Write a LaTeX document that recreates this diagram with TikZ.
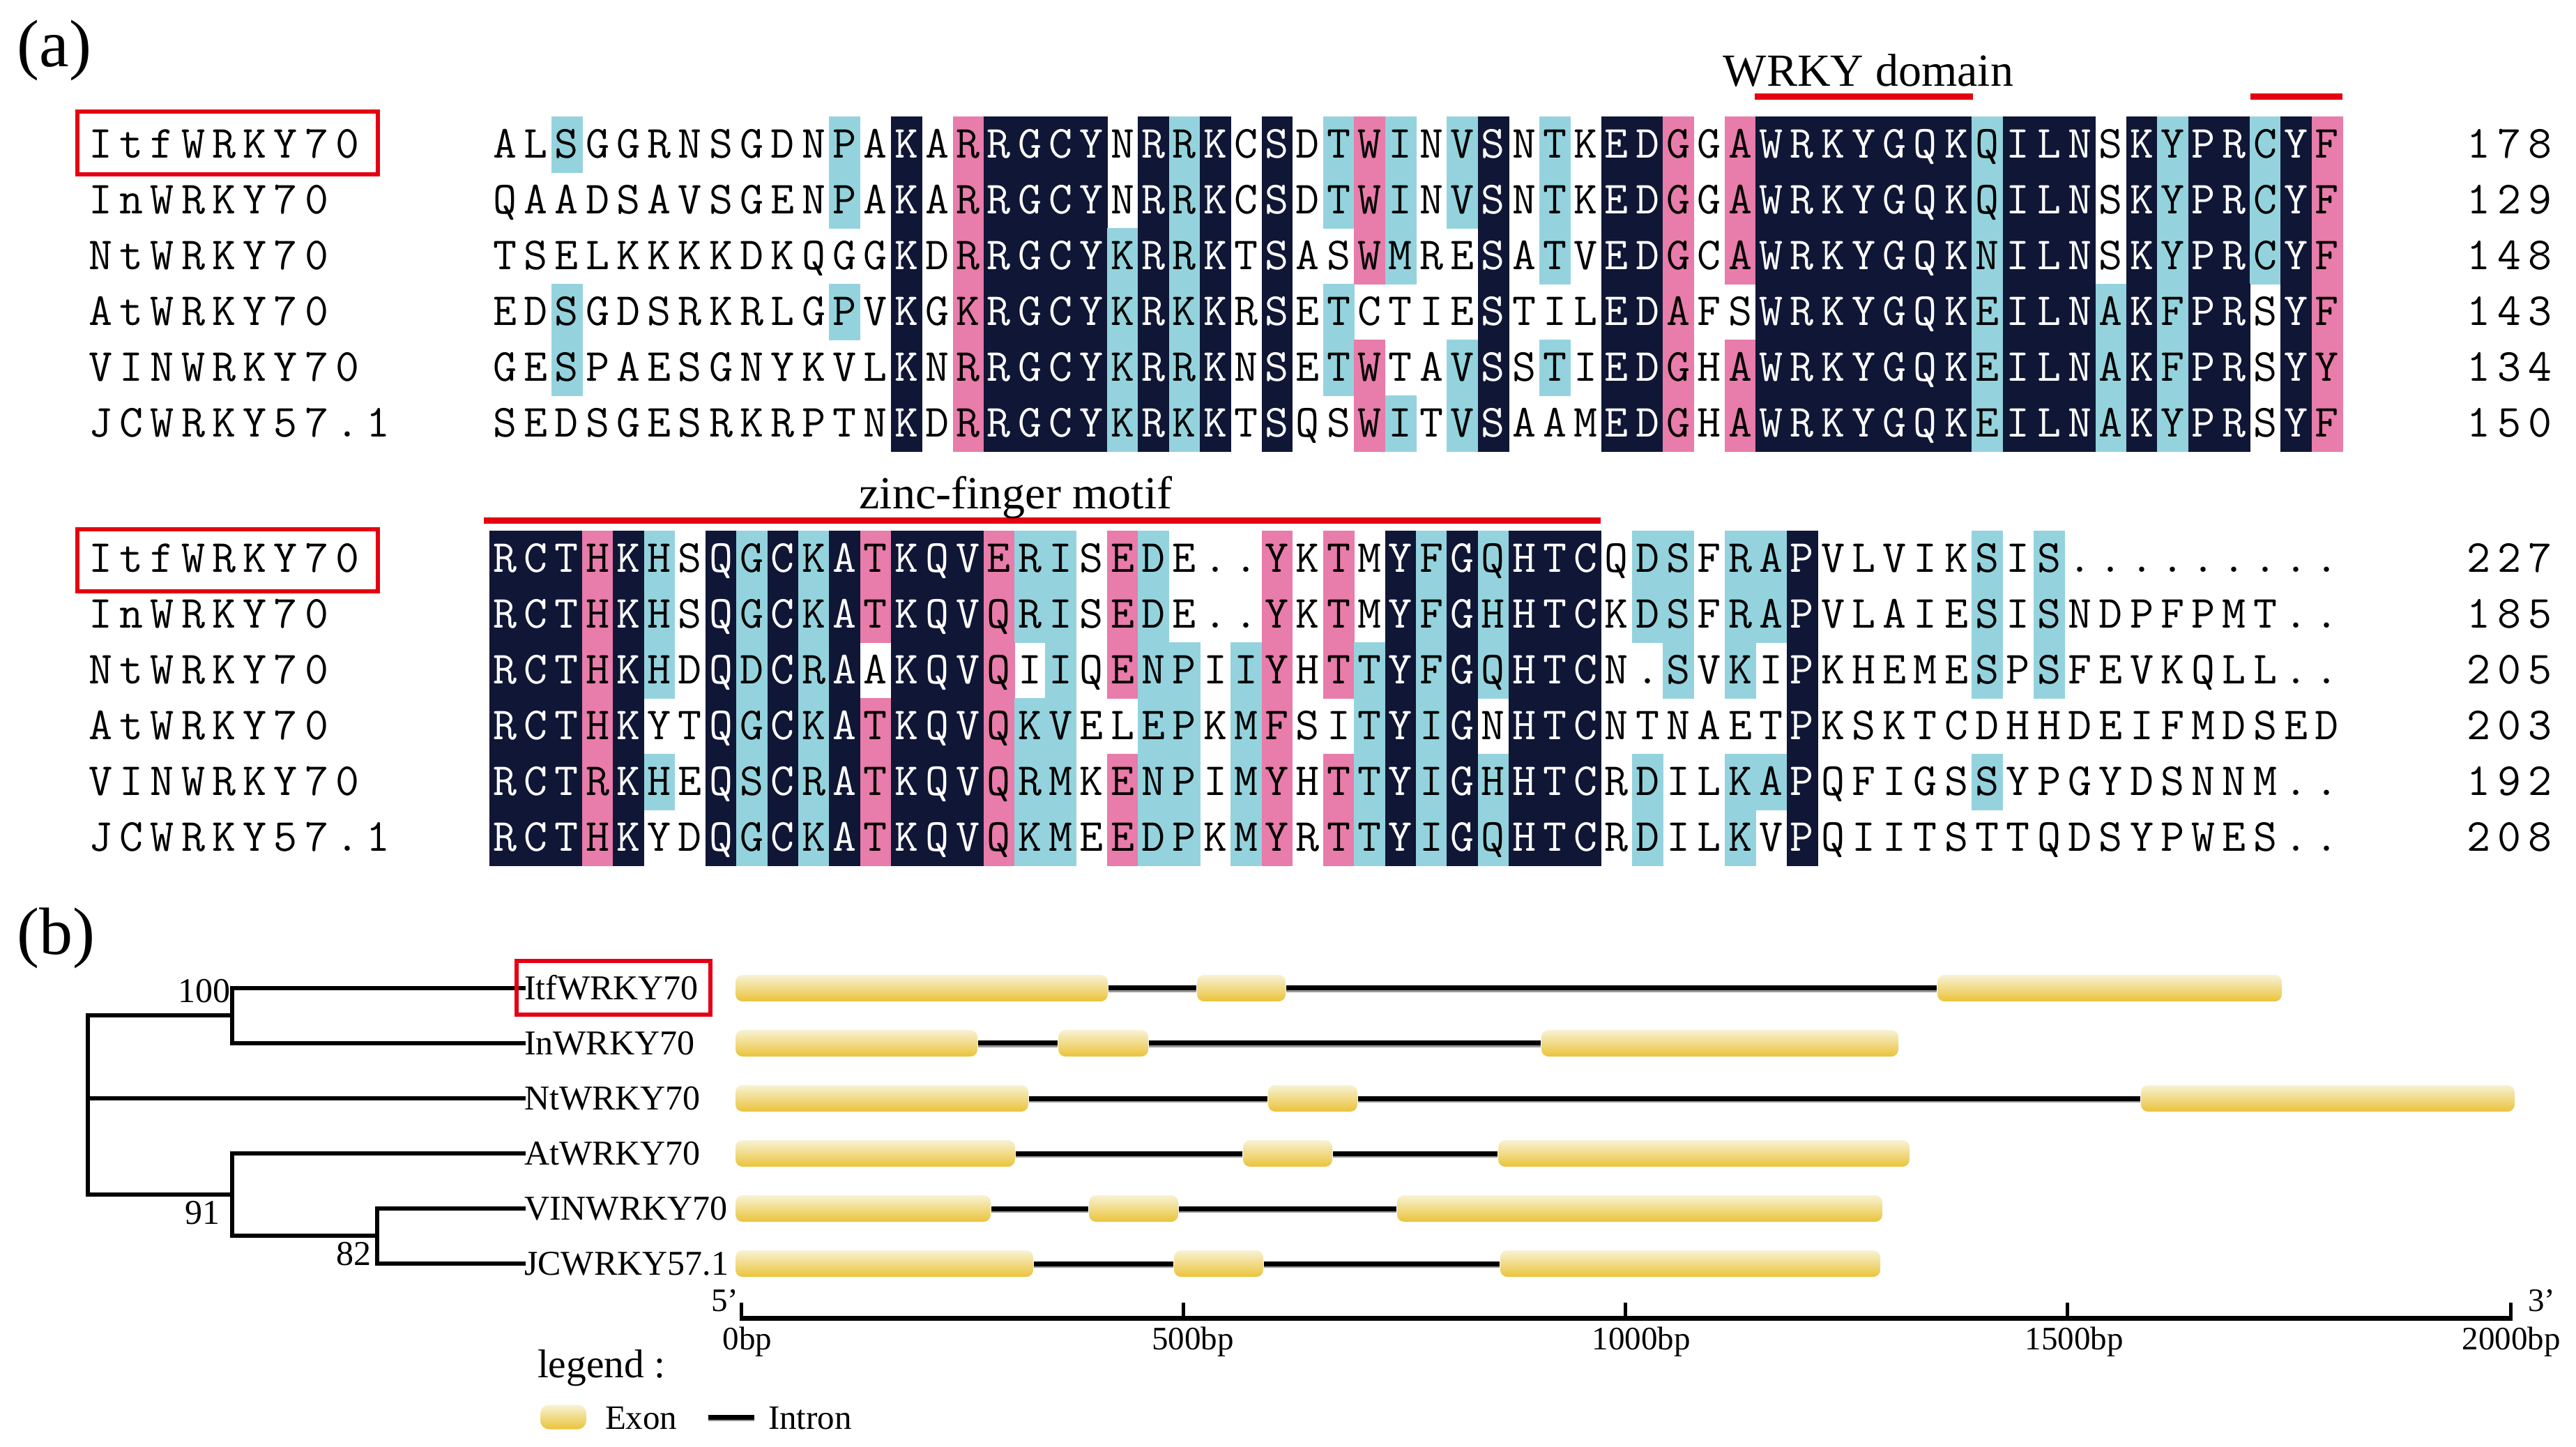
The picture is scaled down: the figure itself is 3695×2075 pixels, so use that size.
\documentclass[tikz,border=0pt]{standalone}
\usepackage{fontspec}
\setmainfont{Liberation Serif}
\definecolor{navyc}{RGB}{16,22,54}
\definecolor{pinkc}{RGB}{232,124,170}
\definecolor{cyanc}{RGB}{148,211,222}
\definecolor{redc}{RGB}{228,0,18}
\definecolor{exontop}{RGB}{248,242,212}
\definecolor{exonbot}{RGB}{234,195,58}
\newcount\cidx
\def\srcell#1#2{%
  \pgfmathsetmacro\cxa{\srx+44.3*\the\cidx}%
  \def\fgc{black}%
  \if#2N\def\fgc{white}\fill[navyc] (\cxa,\sry-40) rectangle ++(44.9,80.6);\fi
  \if#2P\fill[pinkc] (\cxa,\sry-40) rectangle ++(44.9,80.6);\fi
  \if#2C\fill[cyanc] (\cxa,\sry-40) rectangle ++(44.9,80.6);\fi
  \node[seqchar,text=\fgc] (\srname-\the\cidx) at (\cxa+22.15,\sry+20) {#1};%
}
\def\seqrow#1#2#3#4#5{\def\srname{#1}\def\srx{#2}\def\sry{#3}\cidx=0 \srparse#4\relax#5\relax}
\def\srparse#1#2\relax#3#4\relax{\srcell{#1}{#3}\advance\cidx by 1 \ifx\relax#2\relax\else\srparse#2\relax#4\relax\fi}
\def\monoline#1#2#3#4{\def\srname{#1}\def\srx{#2}\def\sry{#3}\cidx=0 \mlparse#4\relax}
\def\mlparse#1#2\relax{\srcell{#1}{W}\advance\cidx by 1 \ifx\relax#2\relax\else\mlparse#2\relax\fi}
\newcommand\exonnode[4]{%
  \pgfmathsetmacro\exw{(#3-#2)*0.2}%
  \node[exon, minimum width=\exw pt] (#1) at ({(#2+#3)/2},#4) {};}
\begin{document}
\begin{tikzpicture}[x=0.2pt,y=-0.2pt,
  seqchar/.style={font=\ttfamily\fontsize{13.2}{13.2}\selectfont, inner sep=0pt, anchor=base},
  panel/.style={font=\fontsize{19.2}{19.2}\selectfont, inner sep=0pt, anchor=base west},
  motif/.style={font=\fontsize{13.2}{13.2}\selectfont, inner sep=0pt, anchor=base},
  redline/.style={draw=redc, line width=1.8pt},
  redbox/.style={draw=redc, line width=1.3pt},
  tree/.style={line width=1.35pt, line cap=rect},
  leaf/.style={font=\fontsize{10}{10}\selectfont, inner sep=0pt, anchor=west, text height=6.6pt, text depth=0pt},
  boot/.style={font=\fontsize{10}{10}\selectfont, inner sep=0pt, anchor=base east},
  exon/.style={rectangle, rounded corners=2pt, inner sep=0pt, minimum height=7.6pt, top color=exontop, bottom color=exonbot, draw=none},
  intron/.style={line width=1.4pt, draw=black},
  intronsh/.style={line width=1.4pt, draw=black!40},
  axisline/.style={line width=1.4pt},
  tickline/.style={line width=1pt},
  axlab/.style={font=\fontsize{9.4}{9.4}\selectfont, inner sep=0pt, anchor=base},
  endlab/.style={font=\fontsize{9.4}{9.4}\selectfont, inner sep=0pt, anchor=base west},
  legtxt/.style={font=\fontsize{9.8}{9.8}\selectfont, inner sep=0pt, anchor=base west}
]
\useasboundingbox (0,0) rectangle (3695,2075);
\fill[white] (0,0) rectangle (3695,2075);

% panel labels
\node[panel] (pa) at (24,96) {(a)};
\node[panel] (pb) at (24,1369) {(b)};

% ---------------- block 1 ----------------
\seqrow{ba}{702}{207}{ALSGGRNSGDNPAKARRGCYNRRKCSDTWINVSNTKEDGGAWRKYGQKQILNSKYPRCYF}{WWCWWWWWWWWCWNWPNNNNWNCNWNWCPCWCNWCWNNPWPNNNNNNNCNNNWNCNNCNP}
\seqrow{bb}{702}{287}{QAADSAVSGENPAKARRGCYNRRKCSDTWINVSNTKEDGGAWRKYGQKQILNSKYPRCYF}{WWWWWWWWWWWCWNWPNNNNWNCNWNWCPCWCNWCWNNPWPNNNNNNNCNNNWNCNNCNP}
\seqrow{bc}{702}{367}{TSELKKKKDKQGGKDRRGCYKRRKTSASWMRESATVEDGCAWRKYGQKNILNSKYPRCYF}{WWWWWWWWWWWWWNWPNNNNCNCNWNWWPCWWNWCWNNPWPNNNNNNNCNNNWNCNNCNP}
\seqrow{bd}{702}{447}{EDSGDSRKRLGPVKGKRGCYKRKKRSETCTIESTILEDAFSWRKYGQKEILNAKFPRSYF}{WWCWWWWWWWWCWNWPNNNNCNCNWNWCWWWWNWWWNNPWWNNNNNNNCNNNCNCNNWNP}
\seqrow{be}{702}{527}{GESPAESGNYKVLKNRRGCYKRRKNSETWTAVSSTIEDGHAWRKYGQKEILNAKFPRSYY}{WWCWWWWWWWWWWNWPNNNNCNCNWNWCPWWCNWCWNNPWPNNNNNNNCNNNCNCNNWNP}
\seqrow{bf}{702}{607}{SEDSGESRKRPTNKDRRGCYKRKKTSQSWITVSAAMEDGHAWRKYGQKEILNAKYPRSYF}{WWWWWWWWWWWWWNWPNNNNCNCNWNWWPCWCNWWWNNPWPNNNNNNNCNNNCNCNNWNP}

% ---------------- block 2 ----------------
\seqrow{ca}{702}{801}{RCTHKHSQGCKATKQVERISEDE..YKTMYFGQHTCQDSFRAPVLVIKSIS.........}{NNNPNCWNCNCNPNNNPCCWPCWWWPWPWNCNCNNNWCCWCCNWWWWWCWCWWWWWWWWW}
\seqrow{cb}{702}{881}{RCTHKHSQGCKATKQVQRISEDE..YKTMYFGHHTCKDSFRAPVLAIESISNDPFPMT..}{NNNPNCWNCNCNPNNNPCCWPCWWWPWPWNCNCNNNWCCWCCNWWWWWCWCWWWWWWWWW}
\seqrow{cc}{702}{961}{RCTHKHDQDCRAAKQVQIIQENPIIYHTTYFGQHTCN.SVKIPKHEMESPSFEVKQLL..}{NNNPNCWNCNCNWNNNPWCWPCCWCPWPCNCNCNNNWWCWCWNWWWWWCWCWWWWWWWWW}
\seqrow{cd}{702}{1041}{RCTHKYTQGCKATKQVQKVELEPKMFSITYIGNHTCNTNAETPKSKTCDHHDEIFMDSED}{NNNPNWWNCNCNPNNNPCCWWCCWCPWWCNCNWNNNWWWWWWNWWWWWWWWWWWWWWWWW}
\seqrow{ce}{702}{1121}{RCTRKHEQSCRATKQVQRMKENPIMYHTTYIGHHTCRDILKAPQFIGSSYPGYDSNNM..}{NNNPNCWNCNCNPNNNPCCWPCCWCPWPCNCNCNNNWCWWCCNWWWWWCWWWWWWWWWWW}
\seqrow{cf}{702}{1201}{RCTHKYDQGCKATKQVQKMEEDPKMYRTTYIGQHTCRDILKVPQIITSTTQDSYPWES..}{NNNPNWWNCNCNPNNNPCCWPCCWCPWPCNCNCNNNWCWWCWNWWWWWWWWWWWWWWWWW}

% sequence names
\monoline{na1}{122}{207}{ItfWRKY70}
\monoline{na2}{122}{287}{InWRKY70}
\monoline{na3}{122}{367}{NtWRKY70}
\monoline{na4}{122}{447}{AtWRKY70}
\monoline{na5}{122}{527}{VINWRKY70}
\monoline{na6}{122}{607}{JCWRKY57.1}
\monoline{nb1}{122}{801}{ItfWRKY70}
\monoline{nb2}{122}{881}{InWRKY70}
\monoline{nb3}{122}{961}{NtWRKY70}
\monoline{nb4}{122}{1041}{AtWRKY70}
\monoline{nb5}{122}{1121}{VINWRKY70}
\monoline{nb6}{122}{1201}{JCWRKY57.1}
% numbers
\monoline{ma1}{3533}{207}{178}
\monoline{ma2}{3533}{287}{129}
\monoline{ma3}{3533}{367}{148}
\monoline{ma4}{3533}{447}{143}
\monoline{ma5}{3533}{527}{134}
\monoline{ma6}{3533}{607}{150}
\monoline{mb1}{3533}{801}{227}
\monoline{mb2}{3533}{881}{185}
\monoline{mb3}{3533}{961}{205}
\monoline{mb4}{3533}{1041}{203}
\monoline{mb5}{3533}{1121}{192}
\monoline{mb6}{3533}{1201}{208}

% red boxes
\draw[redbox] (111,160) rectangle (542,250);
\draw[redbox] (111,759) rectangle (542,848);

% motif annotations
\coordinate (wd0) at (2517,139); \coordinate (wd1) at (2830,139);
\coordinate (wd2) at (3228,139); \coordinate (wd3) at (3360,139);
\draw[redline] (wd0) -- (wd1);
\draw[redline] (wd2) -- (wd3);
\node[motif] (wrkyt) at (2680,124) {WRKY domain};
\coordinate (zf0) at (694,747); \coordinate (zf1) at (2296,747);
\draw[redline] (zf0) -- (zf1);
\node[motif] (zinct) at (1457,730) {zinc-finger motif};

% ---------------- (b) tree ----------------
\node[leaf] (l1) at (751,1417) {ItfWRKY70};
\node[leaf] (l2) at (751,1496) {InWRKY70};
\node[leaf] (l3) at (751,1575) {NtWRKY70};
\node[leaf] (l4) at (751,1654) {AtWRKY70};
\node[leaf] (l5) at (751,1733) {VINWRKY70};
\node[leaf] (l6) at (751,1812) {JCWRKY57.1};
\coordinate (tn1) at (333,1456);
\coordinate (tn2) at (333,1713);
\coordinate (tn3) at (541,1772);
\coordinate (troot) at (126,1585);
\draw[tree] (l1.west) -- (tn1 |- l1.west) -- (tn1 |- l2.west) -- (l2.west);
\draw[tree] (tn1) -- (troot |- tn1) -- (troot |- tn2) -- (tn2);
\draw[tree] (troot |- l3.west) -- (l3.west);
\draw[tree] (l4.west) -- (tn2 |- l4.west) -- (tn2 |- tn3) -- (tn3);
\draw[tree] (l5.west) -- (tn3 |- l5.west) -- (tn3 |- l6.west) -- (l6.west);
\node[boot] (bs100) at (331,1437) {100};
\node[boot] (bs91) at (316,1755) {91};
\node[boot] (bs82) at (533,1814) {82};
\draw[redbox] (741,1378) rectangle (1019,1455);

% ---------------- gene structures ----------------
\exonnode{g1a}{1055}{1589}{1417}\exonnode{g1b}{1717}{1844}{1417}\exonnode{g1c}{2779}{3273}{1417}
\exonnode{g2a}{1055}{1402}{1496}\exonnode{g2b}{1518}{1647}{1496}\exonnode{g2c}{2211}{2723}{1496}
\exonnode{g3a}{1055}{1475}{1575}\exonnode{g3b}{1819}{1947}{1575}\exonnode{g3c}{3071}{3607}{1575}
\exonnode{g4a}{1055}{1456}{1654}\exonnode{g4b}{1783}{1911}{1654}\exonnode{g4c}{2149}{2739}{1654}
\exonnode{g5a}{1055}{1421}{1733}\exonnode{g5b}{1562}{1690}{1733}\exonnode{g5c}{2004}{2700}{1733}
\exonnode{g6a}{1055}{1482}{1812}\exonnode{g6b}{1684}{1812}{1812}\exonnode{g6c}{2152}{2697}{1812}
\foreach \g in {g1,g2,g3,g4,g5,g6}{
  \draw[intronsh] ([yshift=-0.5pt]\g a.east) -- ([yshift=-0.5pt]\g b.west);
  \draw[intronsh] ([yshift=-0.5pt]\g b.east) -- ([yshift=-0.5pt]\g c.west);
  \draw[intron] (\g a.east) -- (\g b.west);
  \draw[intron] (\g b.east) -- (\g c.west);
}

% ---------------- scale axis ----------------
\coordinate (t0) at (1063,1890);
\coordinate (t1) at (1697,1890);
\coordinate (t2) at (2331,1890);
\coordinate (t3) at (2965,1890);
\coordinate (t4) at (3601,1890);
\draw[axisline] ([xshift=-0.5pt]t0) -- ([xshift=0.5pt]t4);
\foreach \t in {t0,t1,t2,t3,t4}{
  \coordinate (\t top) at ([yshift=4.4pt]\t);
  \draw[tickline] (\t) -- (\t top);
}
\node[axlab] (lb0) at (1072,1935) {0bp};
\node[axlab] (lb1) at (1711,1935) {500bp};
\node[axlab] (lb2) at (2354,1935) {1000bp};
\node[axlab] (lb3) at (2975,1935) {1500bp};
\node[axlab] (lb4) at (3602,1935) {2000bp};
\node[endlab] (five) at (1019,1880) {5’};
\node[endlab] (three) at (3625,1880) {3’};

% ---------------- legend ----------------
\node[font=\fontsize{11.5}{11.5}\selectfont, inner sep=0pt, anchor=base west] (legt) at (770,1975) {legend :};
\node[exon, rounded corners=2.5pt, minimum width=13.2pt, minimum height=7pt] (legex) at (808,2032) {};
\node[legtxt] (legext) at (867,2049) {Exon};
\coordinate (legi0) at (1016,2032); \coordinate (legi1) at (1082,2032);
\draw[intronsh] ([yshift=-0.5pt]legi0) -- ([yshift=-0.5pt]legi1);
\draw[intron] (legi0) -- (legi1);
\node[legtxt] (legint) at (1101,2049) {Intron};
\end{tikzpicture}
\end{document}
